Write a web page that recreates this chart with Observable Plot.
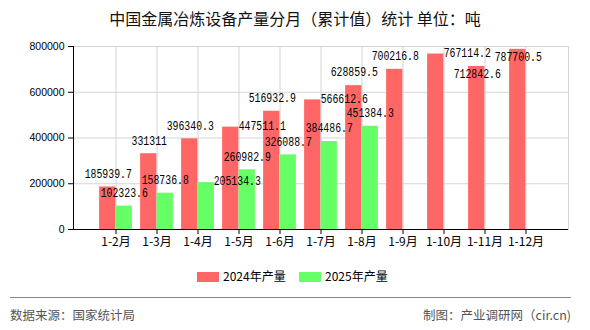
<!DOCTYPE html>
<html>
<head>
<meta charset="utf-8">
<script src="https://cdn.jsdelivr.net/npm/d3@7"></script>
<script src="https://cdn.jsdelivr.net/npm/@observablehq/plot@0.6"></script>
<style>
  html, body { margin: 0; padding: 0; background: #fff; }
  body { width: 590px; height: 330px; position: relative; overflow: hidden; font-family: "Noto Sans CJK SC", "Noto Sans", sans-serif; }
  #title { position: absolute; left: 0; top: 7px; width: 590px; text-align: center; font-size: 16px; line-height: 22px; color: #111; }
  #chart { position: absolute; left: 0; top: 36px; }
  #legend { position: absolute; top: 266px; left: 0; width: 590px; height: 20px; }
  .sw { position: absolute; top: 6px; width: 22px; height: 10px; }
  .lt { position: absolute; top: 0; font-size: 12px; line-height: 20px; color: #000; }
  #sep { position: absolute; left: 10px; top: 297px; width: 561px; height: 0; border-top: 1px solid #888; }
  .foot { position: absolute; top: 305px; font-size: 12.5px; line-height: 20px; color: #555; }
</style>
</head>
<body>
<div id="title">中国金属冶炼设备产量分月（累计值）统计 单位：吨</div>
<div id="chart"></div>
<div id="legend"></div>
<div id="sep"></div>
<div class="foot" style="left:10px;">数据来源：国家统计局</div>
<div class="foot" style="right:19px;">制图：产业调研网（cir.cn)</div>
<script>
// ---- data ----
const months = ["1-2月", "1-3月", "1-4月", "1-5月", "1-6月", "1-7月", "1-8月", "1-9月", "1-10月", "1-11月", "1-12月"];
const values2024 = [185939.7, 331311, 396340.3, 447511.1, 516932.9, 566612.6, 628859.5, 700216.8, 767114.2, 712842.6, 787700.5];
const values2025 = [102323.6, 158736.8, 205134.3, 260982.9, 326088.7, 384486.7, 451384.3];
const seriesNames = ["2024年产量", "2025年产量"];
const yTicks = [0, 200000, 400000, 600000, 800000];
// label placement modes (avoid overlaps as in the reference)
const placement2024 = ["top", "top", "top", "right", "top", "right", "top", "top", "right", "inside", "inside"];
const placement2025 = ["top", "top", "right", "top", "top", "top", "top"];

// ---- styling ----
const RED = "#FF6666", GREEN = "#66FF66", GRID = "#d4d4d4";

const rows2024 = values2024.map((v, i) => ({month: months[i], value: v, place: placement2024[i]}));
const rows2025 = values2025.map((v, i) => ({month: months[i], value: v, place: placement2025[i]}));

const W = 590, H = 230;
const bw = (W - 73 - 22) / 12;   // band step
const barW = 16.5;
const half = bw / 2;

const fmt = v => String(v);
const labelFont = {fontFamily: "'Liberation Mono', 'DejaVu Sans Mono', monospace", fontSize: 12, fill: "#000"};

function labelMarks(rows, offsetX) {
  const modes = {top: {dx: 0, dy: -13}, right: {dx: 31, dy: -1}, inside: {dx: 0, dy: 8}};
  return Object.entries(modes).map(([m, o]) =>
    Plot.text(rows.filter(d => d.place === m), {
      x: "month", y: "value", text: d => fmt(d.value),
      dx: offsetX + o.dx, dy: o.dy, textAnchor: "middle", lineAnchor: "middle",
      ...labelFont
    })
  );
}

const chart = Plot.plot({
  width: W,
  height: H,
  marginLeft: 73,
  marginRight: 22,
  marginTop: 10,
  marginBottom: 37,
  style: {fontFamily: "'Noto Sans CJK SC', 'Liberation Sans', sans-serif", background: "transparent", overflow: "visible"},
  x: {type: "band", domain: months, paddingInner: 0, paddingOuter: 0.5, label: null},
  y: {domain: [0, 800000], label: null},
  marks: [
    Plot.ruleY(yTicks.slice(1), {stroke: GRID, strokeWidth: 1}),
    Plot.ruleX(months, {stroke: GRID, strokeWidth: 1}),
    Plot.frame({anchor: "right", stroke: GRID}),
    Plot.barY(rows2024, {x: "month", y: "value", fill: RED, insetLeft: half - barW, insetRight: half}),
    Plot.barY(rows2025, {x: "month", y: "value", fill: GREEN, insetLeft: half, insetRight: half - barW}),
    Plot.frame({anchor: "left", stroke: "#000"}),
    Plot.ruleY([0], {stroke: "#000"}),
    Plot.axisY({ticks: yTicks, tickFormat: d => String(d), tickSize: 5, tickPadding: 4, fontSize: 10.5, stroke: "#000", fill: "#000", fontFamily: "'Liberation Sans', sans-serif"}),
    Plot.axisX({tickSize: 5, tickPadding: 3, fontSize: 12, stroke: "#000", fill: "#000"}),
    ...labelMarks(rows2024, -7.75),
    ...labelMarks(rows2025, 8.25)
  ]
});
document.getElementById("chart").appendChild(chart);

// compress the value labels to a half-width (6px per character) look
d3.select(chart).selectAll('g[aria-label="text"] text').each(function() {
  const n = (this.textContent || "").length;
  this.setAttribute("textLength", n * 5.9);
  this.setAttribute("lengthAdjust", "spacingAndGlyphs");
});

// ---- legend ----
const legend = document.getElementById("legend");
const legendItems = [
  {name: seriesNames[0], color: RED, left: 197},
  {name: seriesNames[1], color: GREEN, left: 299}
];
legendItems.forEach(it => {
  const sw = document.createElement("div");
  sw.className = "sw"; sw.style.left = it.left + "px"; sw.style.background = it.color;
  const t = document.createElement("div");
  t.className = "lt"; t.style.left = (it.left + 26) + "px"; t.textContent = it.name;
  legend.appendChild(sw); legend.appendChild(t);
});
</script>
</body>
</html>
